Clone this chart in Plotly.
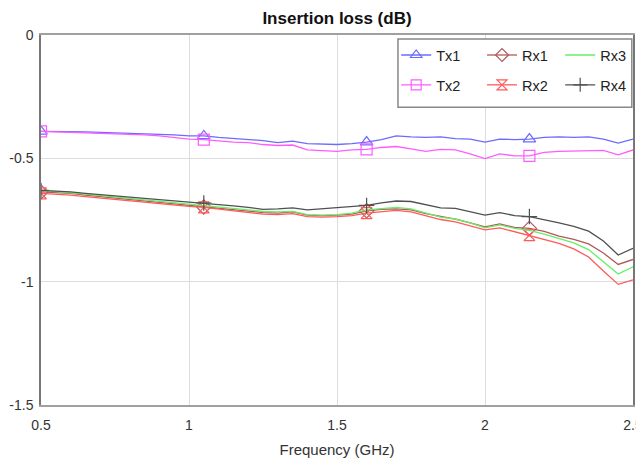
import plotly.graph_objects as go

freq = [0.5, 0.55, 0.6, 0.65, 0.7, 0.75, 0.8, 0.85, 0.9, 0.95,
        1.0, 1.05, 1.1, 1.15, 1.2, 1.25, 1.3, 1.35, 1.4, 1.45,
        1.5, 1.55, 1.6, 1.65, 1.7, 1.75, 1.8, 1.85, 1.9, 1.95,
        2.0, 2.05, 2.1, 2.15, 2.2, 2.25, 2.3, 2.35, 2.4, 2.45, 2.5]

tx1 = [-0.391, -0.391, -0.393, -0.393, -0.395, -0.397, -0.397, -0.399, -0.401, -0.405,
       -0.409, -0.409, -0.415, -0.420, -0.422, -0.428, -0.436, -0.430, -0.440, -0.442,
       -0.444, -0.440, -0.434, -0.424, -0.409, -0.413, -0.415, -0.413, -0.420, -0.422,
       -0.434, -0.422, -0.424, -0.422, -0.415, -0.413, -0.415, -0.413, -0.422, -0.438, -0.422]

tx2 = [-0.391, -0.393, -0.395, -0.397, -0.397, -0.401, -0.401, -0.405, -0.409, -0.415,
       -0.422, -0.424, -0.430, -0.434, -0.436, -0.444, -0.448, -0.446, -0.466, -0.468,
       -0.472, -0.466, -0.464, -0.456, -0.452, -0.462, -0.472, -0.464, -0.466, -0.482,
       -0.501, -0.482, -0.490, -0.490, -0.476, -0.472, -0.470, -0.468, -0.468, -0.486, -0.466]

rx1 = [-0.636, -0.638, -0.642, -0.649, -0.655, -0.661, -0.667, -0.673, -0.679, -0.685,
       -0.691, -0.697, -0.701, -0.707, -0.713, -0.720, -0.722, -0.717, -0.730, -0.732,
       -0.730, -0.726, -0.713, -0.707, -0.705, -0.709, -0.724, -0.736, -0.746, -0.762,
       -0.778, -0.766, -0.780, -0.784, -0.796, -0.815, -0.829, -0.847, -0.884, -0.930, -0.910]

rx2 = [-0.642, -0.645, -0.649, -0.655, -0.661, -0.667, -0.673, -0.677, -0.683, -0.689,
       -0.695, -0.699, -0.705, -0.711, -0.717, -0.726, -0.728, -0.724, -0.736, -0.738,
       -0.736, -0.732, -0.722, -0.715, -0.711, -0.717, -0.734, -0.748, -0.758, -0.774,
       -0.790, -0.782, -0.798, -0.811, -0.827, -0.845, -0.867, -0.900, -0.957, -1.011, -0.993]

rx3 = [-0.630, -0.634, -0.638, -0.645, -0.651, -0.657, -0.663, -0.667, -0.673, -0.679,
       -0.687, -0.693, -0.697, -0.703, -0.709, -0.715, -0.717, -0.715, -0.728, -0.730,
       -0.728, -0.722, -0.709, -0.703, -0.699, -0.705, -0.722, -0.738, -0.746, -0.762,
       -0.782, -0.770, -0.784, -0.792, -0.807, -0.825, -0.843, -0.870, -0.920, -0.969, -0.940]

rx4 = [-0.630, -0.632, -0.636, -0.642, -0.647, -0.651, -0.657, -0.661, -0.667, -0.673,
       -0.675, -0.681, -0.687, -0.693, -0.699, -0.707, -0.705, -0.701, -0.709, -0.705,
       -0.701, -0.697, -0.691, -0.681, -0.673, -0.675, -0.687, -0.701, -0.703, -0.718,
       -0.730, -0.720, -0.732, -0.736, -0.748, -0.762, -0.776, -0.795, -0.835, -0.892, -0.865]

marker_idx = [0, 11, 22, 33]

x_ticks = [0.5, 1, 1.5, 2, 2.5]
x_tick_labels = ["0.5", "1", "1.5", "2", "2.5"]
y_ticks = [0, -0.5, -1, -1.5]
y_tick_labels = ["0", "-0.5", "-1", "-1.5"]

series = [
    ("Tx1", tx1, "#6b6bff", "triangle-up-open", "legend"),
    ("Tx2", tx2, "#ff5cff", "square-open", "legend"),
    ("Rx1", rx1, "#b05a5a", "diamond-open", "legend2"),
    ("Rx2", rx2, "#ff5a5a", "hourglass-open", "legend2"),
    ("Rx3", rx3, "#66ee66", None, "legend3"),
    ("Rx4", rx4, "#505050", "cross-thin-open", "legend3"),
]

fig = go.Figure()
for name, ys, color, sym, leg in series:
    fig.add_trace(go.Scatter(
        x=freq, y=ys, mode="lines", name=name, legendgroup=name,
        line=dict(color=color, width=1.3), showlegend=False, hoverinfo="skip"))
    if sym:
        fig.add_trace(go.Scatter(
            x=[freq[i] for i in marker_idx], y=[ys[i] for i in marker_idx],
            mode="markers", legendgroup=name, showlegend=False,
            marker=dict(symbol=sym, size=11, color=color, line=dict(color=color, width=1.2))))
    fig.add_trace(go.Scatter(
        x=[None], y=[None], name=name, legendgroup=name, legend=leg,
        mode="lines+markers" if sym else "lines",
        line=dict(color=color, width=1.3),
        marker=dict(symbol=sym or "circle", size=10, color=color, line=dict(color=color, width=1.2))))

legend_common = dict(orientation="v", traceorder="grouped", xanchor="left",
                     y=0.989, yanchor="top", bgcolor="rgba(0,0,0,0)", borderwidth=0,
                     font=dict(size=14.5, color="#222"), tracegroupgap=8,
                     itemclick=False, itemdoubleclick=False)

fig.update_layout(
    width=636, height=450,
    margin=dict(l=33, r=11, t=27, b=53, autoexpand=False),
    paper_bgcolor="white", plot_bgcolor="white",
    font=dict(family="Liberation Sans, Arial, sans-serif", size=14, color="#333"),
    title=dict(text="<b>Insertion loss (dB)</b>", x=0.5, xref="paper", xanchor="center",
               yref="container", y=0.978, yanchor="middle", font=dict(size=17, color="#111")),
    legend=dict(x=0.600, **legend_common),
    legend2=dict(x=0.745, **legend_common),
    legend3=dict(x=0.877, **legend_common),
    showlegend=True,
    shapes=[dict(type="rect", xref="paper", yref="paper", x0=0.603, x1=0.998,
                 y0=0.805, y1=0.989, fillcolor="white", layer="above",
                 line=dict(color="#888", width=1.5))],
)
fig.update_xaxes(range=[0.5, 2.5], tickvals=x_ticks, ticktext=x_tick_labels,
                 showgrid=True, gridcolor="#dcdcdc", gridwidth=1, automargin=False,
                 ticklabeloverflow="allow",
                 showline=True, linecolor="#a0a0a0", linewidth=1.5, mirror=True,
                 ticks="outside", ticklen=6, tickcolor="rgba(0,0,0,0)",
                 zeroline=False,
                 title=dict(text="Frequency (GHz)", font=dict(size=15, color="#333"), standoff=13))
fig.update_yaxes(range=[-1.5, 0], tickvals=y_ticks, ticktext=y_tick_labels,
                 showgrid=True, gridcolor="#dcdcdc", gridwidth=1, automargin=False,
                 showline=True, linecolor="#777", linewidth=1.5, mirror=True,
                 ticks="outside", ticklen=3, tickcolor="rgba(0,0,0,0)",
                 zeroline=False)

fig.write_html("out.html")
